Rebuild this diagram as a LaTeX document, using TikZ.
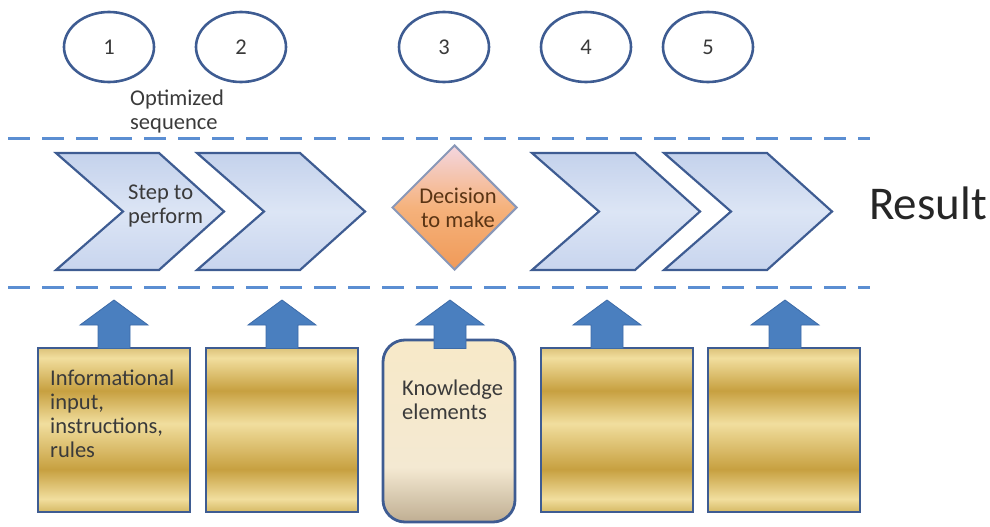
\documentclass[tikz,border=0pt]{standalone}
\usepackage{fontspec}
\setmainfont{Carlito}
\usetikzlibrary{shapes.geometric,calc}
\definecolor{frame}{HTML}{3E5C92}
\definecolor{dashc}{HTML}{5B8ED2}
\definecolor{chevT}{HTML}{C4D2EC}
\definecolor{chevM}{HTML}{DCE5F5}
\definecolor{chevB}{HTML}{C8D5EE}
\definecolor{arrF}{HTML}{4A7FBF}
\definecolor{arrD}{HTML}{3D6BA8}
\definecolor{txt}{HTML}{3A3A3A}
\definecolor{dtxt}{HTML}{5A3414}
\definecolor{diaT}{HTML}{F4D6E0}
\definecolor{diaM}{HTML}{F5B27C}
\definecolor{diaB}{HTML}{F09A58}
\definecolor{diaD}{HTML}{8A98B8}
\definecolor{goldT}{HTML}{DCC27A}
\definecolor{goldL}{HTML}{F1DE9E}
\definecolor{goldD}{HTML}{C7A040}
\definecolor{goldE}{HTML}{D6B964}
\definecolor{knT}{HTML}{F7E9C8}
\definecolor{knM}{HTML}{F4E9D2}
\definecolor{knB}{HTML}{BFAE92}
\pgfdeclareverticalshading{goldbars}{100bp}{color(0bp)=(goldE); color(25bp)=(goldE); color(29bp)=(goldL); color(38bp)=(goldD); color(52bp)=(goldL); color(62bp)=(goldD); color(72bp)=(goldL); color(75bp)=(goldT); color(100bp)=(goldT)}
\pgfdeclareverticalshading{knowsh}{100bp}{color(0bp)=(knB); color(25bp)=(knB); color(40bp)=(knM); color(75bp)=(knT); color(100bp)=(knT)}
\tikzset{
  txtstyle/.style={font=\fontsize{22.5}{24}\selectfont, text=txt, inner sep=0pt},
  numell/.style={ellipse, draw=frame, line width=2.6pt, minimum width=90pt, minimum height=70pt, txtstyle},
  dashline/.style={draw=dashc, line width=3pt, dash pattern=on 22pt off 12pt},
  chev/.style={draw=frame, line width=2.2pt, top color=chevT, bottom color=chevB, middle color=chevM},
  goldbox/.style={rectangle, draw=frame, line width=2.8pt, shading=goldbars, minimum width=152pt, minimum height=164pt},
  knowbox/.style={rectangle, rounded corners=22pt, draw=frame, line width=2.8pt, shading=knowsh, minimum width=132pt, minimum height=182pt},
  dia/.style={diamond, draw=diaD, line width=2pt, top color=diaT, bottom color=diaB, middle color=diaM, minimum width=125pt, minimum height=125pt, inner sep=0pt},
  uparr/.style={fill=arrF, draw=arrD, line width=0.8pt},
}
\begin{document}
\begin{tikzpicture}[x=1pt,y=-1pt]
\useasboundingbox (0,0) rectangle (990,527);
% numbered ellipses
\node[numell] (n1) at (109,47) {1};
\node[numell] (n2) at (241,47) {2};
\node[numell] (n3) at (444,47) {3};
\node[numell] (n4) at (586,47) {4};
\node[numell] (n5) at (708,47) {5};
\node[txtstyle, anchor=north west, align=left] (opt) at (130,90) {Optimized\\sequence};
% dashed lines
\coordinate (d1a) at (8,138); \coordinate (d1b) at (870,138);
\coordinate (d2a) at (8,287); \coordinate (d2b) at (870,287);
\draw[dashline] (d1a) -- (d1b);
\draw[dashline] (d2a) -- (d2b);
% chevrons
\foreach \L in {56,197,532,664}{
  \path[chev] (\L,153) -- (\L+103,153) -- (\L+168,211.5) -- (\L+103,270) -- (\L,270) -- (\L+67,211.5) -- cycle;
}
\node[txtstyle, anchor=west, align=left] (step) at (128,206) {Step to\\perform};
% diamond
\node[dia] (dec) at (454.5,207.5) {};
\node[txtstyle, text=dtxt, align=center] (dect) at (458,208) {Decision\\to make};
\node[font=\fontsize{47}{50}\selectfont, text=black!85, inner sep=0pt, anchor=west] (res) at (869,203) {Result};
% boxes
\node[goldbox] (b1) at (114,430) {};
\node[goldbox] (b2) at (282,430) {};
\node[knowbox] (b3) at (449,431) {};
\node[goldbox] (b4) at (617,430) {};
\node[goldbox] (b5) at (784,430) {};
\node[txtstyle, anchor=north west, align=left] (info) at (50,370) {Informational\\input,\\instructions,\\rules};
\node[txtstyle, anchor=north west, align=left] (know) at (402,380) {Knowledge\\elements};
% block arrows
\foreach \X/\B in {114/b1, 282/b2, 450/b3, 607/b4, 785/b5}{
  \path[uparr] (\X-16,348.5) -- (\X-16,325) -- (\X-34,325) -- (\X,300) -- (\X+34,325) -- (\X+16,325) -- (\X+16,348.5) -- cycle;
}
\end{tikzpicture}
\end{document}
